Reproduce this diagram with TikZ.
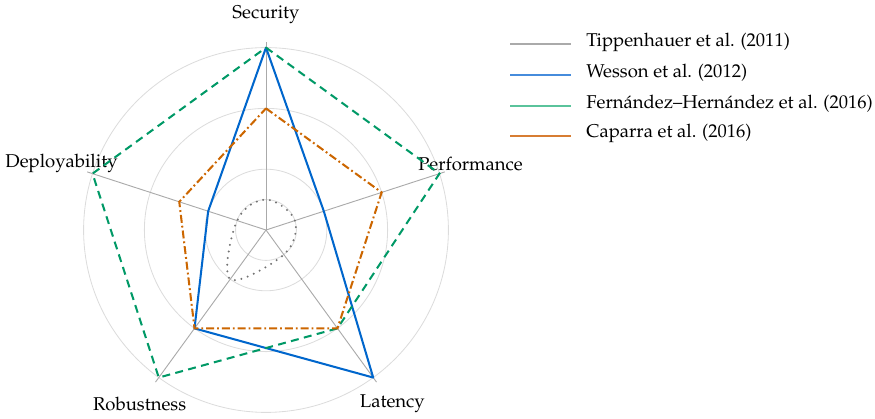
\documentclass[tikz,border=0pt]{standalone}
\usepackage[T1]{fontenc}
\usepackage{mathpazo}
\usepackage{tikz}
\usepackage{xcolor}
\definecolor{tippgray}{RGB}{115,115,115}
\definecolor{keygray}{RGB}{170,170,170}
\definecolor{wessonblue}{RGB}{0,102,204}
\definecolor{ferngreen}{RGB}{0,153,102}
\definecolor{caparraorange}{RGB}{204,102,0}
\definecolor{wessonkey}{RGB}{70,140,220}
\definecolor{fernkey}{RGB}{90,195,155}
\definecolor{caparrakey}{RGB}{215,125,50}
\definecolor{ringgray}{RGB}{220,220,220}
\definecolor{spokegray}{RGB}{170,170,170}
\def\rstep{30.4}

\begin{document}
\begin{tikzpicture}[x=0.54pt, y=0.54pt,
    ring/.style={ringgray, line width=0.45pt},
    spoke/.style={spokegray, line width=0.5pt},
    tipp/.style={tippgray, line width=1.2pt, line cap=round, dash pattern=on 0pt off 3.6pt},
    wesson/.style={wessonblue, line width=1.1pt, line join=round},
    fern/.style={ferngreen, line width=1.1pt, dash pattern=on 4.3pt off 2.9pt},
    caparra/.style={caparraorange, line width=1.1pt, dash pattern=on 4.3pt off 1.6pt on 1pt off 1.6pt},
    keyline/.style={line width=1pt},
    keytext/.style={anchor=base west, inner sep=0pt},
  ]
  \useasboundingbox (-266,-189) rectangle (609,230);
  \coordinate (O) at (0,0);

  % grid
  \foreach \r in {1,2,4,6}
    \draw[ring] (O) circle [radius={\r*\rstep}];

  \foreach \ang/\name/\lbl in {90/sec/Security, 18/perf/Performance, -54/lat/Latency, -126/rob/Robustness, 162/dep/Deployability} {
    \draw[spoke] (O) -- (\ang:188) coordinate (\name);
    \node (\name-label) at (\ang:215) {\lbl};
  }

  % data
  \draw[tipp] plot[smooth cycle, tension=0.6] coordinates {(90:{1*\rstep}) (18:{1*\rstep}) (-54:{1*\rstep}) (-126:{2*\rstep}) (162:{1*\rstep})};
  \draw[wesson] (90:{6*\rstep}) -- (18:{2*\rstep}) -- (-54:{6*\rstep}) -- (-126:{4*\rstep}) -- (162:{2*\rstep}) -- cycle;
  \draw[fern] (90:{6*\rstep}) -- (18:{6*\rstep}) -- (-54:{4*\rstep}) -- (-126:{6*\rstep}) -- (162:{6*\rstep}) -- cycle;
  \draw[caparra] (90:{4*\rstep}) -- (18:{4*\rstep}) -- (-54:{4*\rstep}) -- (-126:{4*\rstep}) -- (162:{3*\rstep}) -- cycle;

  % legend
  \coordinate (tipp-key) at (244,186);
  \coordinate (wesson-key) at (244,155);
  \coordinate (fern-key) at (244,124);
  \coordinate (caparra-key) at (244,94);

  \draw[keyline, keygray] (tipp-key) -- ++(61,0);
  \draw[keyline, wessonkey] (wesson-key) -- ++(61,0);
  \draw[keyline, fernkey] (fern-key) -- ++(61,0);
  \draw[keyline, caparrakey] (caparra-key) -- ++(61,0);

  \node[keytext] (tipp-text) at (320,183.4) {Tippenhauer et al. (2011)};
  \node[keytext] (wesson-text) at (320,152) {Wesson et al. (2012)};
  \node[keytext] (fern-text) at (320,121.7) {Fern\'{a}ndez--Hern\'{a}ndez et al. (2016)};
  \node[keytext] (caparra-text) at (320,92) {Caparra et al. (2016)};

\end{tikzpicture}
\end{document}
